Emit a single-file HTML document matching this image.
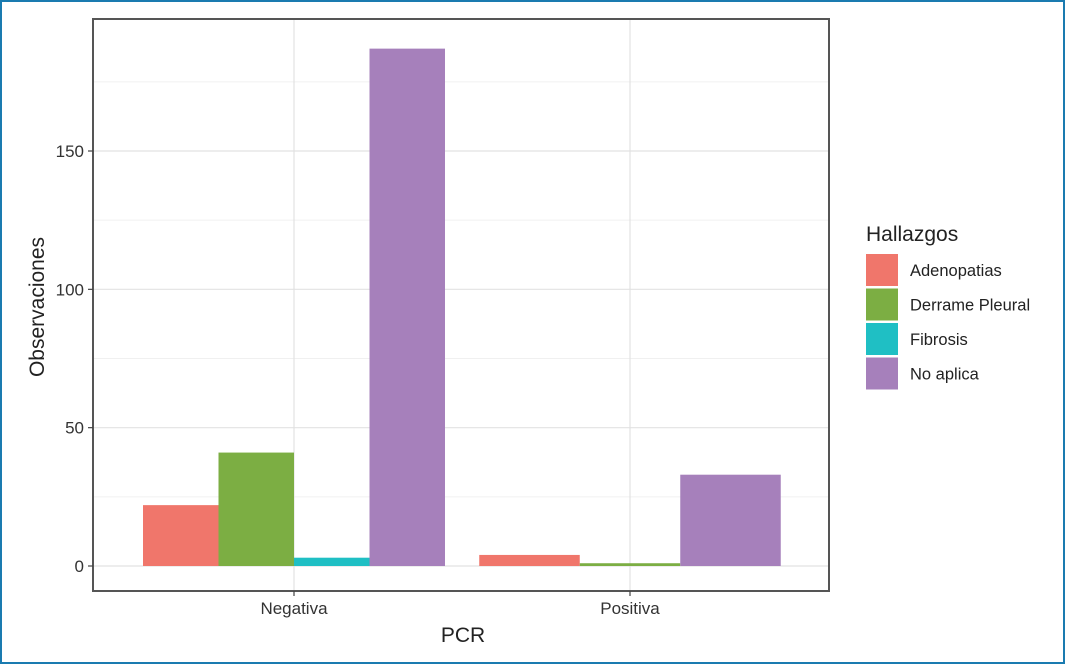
<!DOCTYPE html>
<html><head><meta charset="utf-8"><style>
html,body{margin:0;padding:0;background:#fff;}
svg{display:block;font-family:"Liberation Sans",Arial,sans-serif;}
</style></head><body>
<svg id="chart" width="1065" height="664" viewBox="0 0 1065 664">
<rect x="1" y="1" width="1063" height="662" fill="#fff" stroke="#1a7bb0" stroke-width="2"/>
<g id="grid"></g>
<g id="bars"></g>
<rect x="93" y="19" width="736" height="572" fill="none" stroke="#555" stroke-width="2"/>
<g id="axes"></g>
<text x="463" y="642" font-size="21" fill="#222" text-anchor="middle">PCR</text>
<text transform="translate(44,307) rotate(-90)" font-size="21" fill="#222" text-anchor="middle">Observaciones</text>
<g id="legend">
<text x="866" y="241" font-size="21" fill="#222">Hallazgos</text>
</g>
</svg>
<script>
const categories = ["Negativa","Positiva"];
const series = ["Adenopatias","Derrame Pleural","Fibrosis","No aplica"];
const colors = ["#f0766b","#7cae43","#1fbfc4","#a680bb"];
const negativaValues = [22,41,3,187];
const positivaValues = [4,1,null,33];
const yTicks = [0,50,100,150];
const yMinor = [25,75,125,175];
const NS="http://www.w3.org/2000/svg";
function mk(tag,attrs,parent){const e=document.createElementNS(NS,tag);for(const k in attrs)e.setAttribute(k,attrs[k]);parent.appendChild(e);return e;}
const y0=566, pxPerUnit=(566-151)/150;
function yScale(v){return y0-v*pxPerUnit;}
const catCenters=[294,630];
function xScale(i){return catCenters[i];}
const groupWidth=302;
const grid=document.getElementById('grid'), bars=document.getElementById('bars'), axes=document.getElementById('axes'), legend=document.getElementById('legend');
yMinor.forEach(v=>{const l=mk('line',{x1:93,x2:829,y1:yScale(v),y2:yScale(v),stroke:'#f0f0f0','stroke-width':1},grid);

});
yTicks.forEach(v=>{const l=mk('line',{x1:93,x2:829,y1:yScale(v),y2:yScale(v),stroke:'#e2e2e2','stroke-width':1.2},grid);


const t=mk('line',{x1:88,x2:93,y1:yScale(v),y2:yScale(v),stroke:'#444','stroke-width':1.2},axes);


const tx=mk('text',{x:84,y:yScale(v)+6,'font-size':17,fill:'#333','text-anchor':'end'},axes);
tx.textContent=v;

});
categories.forEach((c,i)=>{const x=xScale(i);
const g=mk('line',{x1:x,x2:x,y1:19,y2:591,stroke:'#e2e2e2','stroke-width':1.2},grid);


const t=mk('line',{x1:x,x2:x,y1:591,y2:596,stroke:'#444','stroke-width':1.2},axes);


const tx=mk('text',{x:x,y:614,'font-size':17,fill:'#333','text-anchor':'middle'},axes);
tx.textContent=c;

});
[negativaValues,positivaValues].forEach((vals,i)=>{
const present=vals.map((v,j)=>j).filter(j=>vals[j]!==null);
const n=present.length;
const w=i===0?groupWidth/n:100.5;
const start=xScale(i)-w*n/2;
present.forEach((j,k)=>{const v=vals[j];
const r=mk('rect',{x:start+k*w,y:yScale(v),width:w,height:y0-yScale(v),fill:colors[j]},bars);

});});
series.forEach((s,j)=>{const y=254+j*34.5;
const r=mk('rect',{x:866,y:y,width:32,height:32,fill:colors[j]},legend);


const t=mk('text',{x:910,y:y+22,'font-size':16.5,fill:'#222'},legend);
t.textContent=s;

});
</script>
</body></html>
